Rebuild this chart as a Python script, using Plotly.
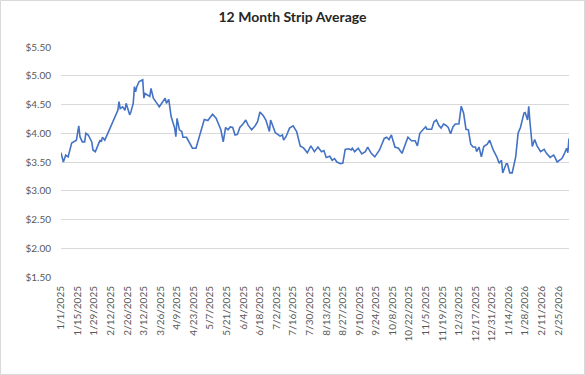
import plotly.graph_objects as go
import pandas as pd

dates = [
    "2025-01-01", "2025-01-03", "2025-01-05", "2025-01-07", "2025-01-10", "2025-01-12", "2025-01-14",
    "2025-01-16", "2025-01-17", "2025-01-19", "2025-01-21", "2025-01-22", "2025-01-24", "2025-01-27",
    "2025-01-28", "2025-01-30", "2025-02-03", "2025-02-04", "2025-02-05", "2025-02-07", "2025-02-11",
    "2025-02-15", "2025-02-18", "2025-02-19", "2025-02-20", "2025-02-22", "2025-02-24", "2025-02-25",
    "2025-02-27", "2025-02-28", "2025-03-01", "2025-03-03", "2025-03-04", "2025-03-05", "2025-03-06",
    "2025-03-08", "2025-03-11", "2025-03-12", "2025-03-13", "2025-03-17", "2025-03-18", "2025-03-20",
    "2025-03-22", "2025-03-25", "2025-03-30", "2025-03-31", "2025-04-02", "2025-04-04", "2025-04-07",
    "2025-04-08", "2025-04-09", "2025-04-11", "2025-04-13", "2025-04-14", "2025-04-17", "2025-04-20",
    "2025-04-22", "2025-04-25", "2025-04-28", "2025-05-02", "2025-05-05", "2025-05-09", "2025-05-12",
    "2025-05-16", "2025-05-18", "2025-05-20", "2025-05-22", "2025-05-24", "2025-05-26", "2025-05-28",
    "2025-05-30", "2025-06-01", "2025-06-04", "2025-06-06", "2025-06-08", "2025-06-11", "2025-06-14",
    "2025-06-16", "2025-06-18", "2025-06-21", "2025-06-23", "2025-06-25", "2025-06-26", "2025-06-27",
    "2025-06-29", "2025-07-01", "2025-07-03", "2025-07-05", "2025-07-07", "2025-07-08", "2025-07-10",
    "2025-07-13", "2025-07-16", "2025-07-19", "2025-07-22", "2025-07-25", "2025-07-28", "2025-07-31",
    "2025-08-03", "2025-08-06", "2025-08-09", "2025-08-11", "2025-08-13", "2025-08-16", "2025-08-18",
    "2025-08-20", "2025-08-22", "2025-08-25", "2025-08-27", "2025-08-29", "2025-09-01", "2025-09-03",
    "2025-09-04", "2025-09-06", "2025-09-09", "2025-09-12", "2025-09-15", "2025-09-17", "2025-09-20",
    "2025-09-23", "2025-09-27", "2025-10-01", "2025-10-03", "2025-10-05", "2025-10-07", "2025-10-10",
    "2025-10-13", "2025-10-16", "2025-10-19", "2025-10-21", "2025-10-24", "2025-10-27", "2025-10-29",
    "2025-10-31", "2025-11-03", "2025-11-05", "2025-11-06", "2025-11-10", "2025-11-12", "2025-11-14",
    "2025-11-16", "2025-11-18", "2025-11-20", "2025-11-22", "2025-11-24", "2025-11-26", "2025-11-28",
    "2025-11-30", "2025-12-03", "2025-12-05", "2025-12-07", "2025-12-09", "2025-12-11", "2025-12-13",
    "2025-12-15", "2025-12-17", "2025-12-18", "2025-12-20", "2025-12-22", "2025-12-24", "2025-12-27",
    "2025-12-29", "2026-01-01", "2026-01-04", "2026-01-06", "2026-01-08", "2026-01-09", "2026-01-12",
    "2026-01-13", "2026-01-15", "2026-01-17", "2026-01-20", "2026-01-22", "2026-01-24", "2026-01-27",
    "2026-01-28", "2026-01-30", "2026-01-31", "2026-02-01", "2026-02-03", "2026-02-05", "2026-02-07",
    "2026-02-10", "2026-02-13", "2026-02-15", "2026-02-18", "2026-02-21", "2026-02-22", "2026-02-24",
    "2026-02-28", "2026-03-02", "2026-03-04", "2026-03-05", "2026-03-06",
]

prices = [
    3.66, 3.50, 3.62, 3.59, 3.83, 3.85, 3.88,
    4.13, 3.94, 3.85, 3.85, 4.00, 3.97, 3.85,
    3.71, 3.68, 3.88, 3.85, 3.93, 3.88, 4.06,
    4.26, 4.40, 4.55, 4.43, 4.46, 4.40, 4.52,
    4.40, 4.32, 4.37, 4.52, 4.81, 4.72, 4.81,
    4.90, 4.93, 4.61, 4.69, 4.64, 4.78, 4.61,
    4.55, 4.46, 4.61, 4.52, 4.59, 4.29, 4.09,
    3.94, 4.26, 4.06, 4.03, 3.93, 3.93, 3.82,
    3.74, 3.74, 3.97, 4.24, 4.22, 4.33, 4.26,
    4.06, 3.85, 4.10, 4.06, 4.11, 4.10, 3.97,
    3.98, 4.10, 4.17, 4.23, 4.14, 4.06, 4.13,
    4.20, 4.37, 4.30, 4.23, 4.09, 4.03, 4.23,
    4.11, 4.01, 3.98, 3.95, 3.97, 3.88, 3.94,
    4.09, 4.13, 4.03, 3.78, 3.74, 3.66, 3.78,
    3.68, 3.76, 3.68, 3.70, 3.58, 3.60, 3.53,
    3.56, 3.50, 3.47, 3.48, 3.72, 3.73, 3.71,
    3.74, 3.68, 3.74, 3.64, 3.68, 3.76, 3.65,
    3.59, 3.71, 3.91, 3.93, 3.89, 3.97, 3.76,
    3.74, 3.65, 3.82, 3.93, 3.87, 3.87, 3.78,
    4.00, 4.07, 4.11, 4.07, 4.07, 4.20, 4.23,
    4.14, 4.09, 4.16, 4.14, 4.10, 3.99, 4.11,
    4.16, 4.16, 4.47, 4.35, 4.07, 4.06, 3.81,
    3.76, 3.76, 3.68, 3.76, 3.59, 3.77, 3.81,
    3.88, 3.71, 3.59, 3.48, 3.53, 3.31, 3.47,
    3.47, 3.31, 3.31, 3.59, 4.00, 4.10, 4.35,
    4.36, 4.23, 4.47, 4.20, 3.77, 3.89, 3.78,
    3.68, 3.72, 3.65, 3.58, 3.62, 3.59, 3.50,
    3.56, 3.64, 3.74, 3.66, 3.91,
]

tick_dates = pd.date_range("2025-01-01", "2026-02-25", freq="14D")
tick_labels = [f"{d.month}/{d.day}/{d.year}" for d in tick_dates]

y_ticks = [1.5, 2.0, 2.5, 3.0, 3.5, 4.0, 4.5, 5.0, 5.5]

W, H = 585, 375
L, R, T, B = 61, 16, 47, 98
pw, ph = W - L - R, H - T - B

fig = go.Figure()
fig.add_trace(go.Scatter(
    x=dates, y=prices, mode="lines",
    line=dict(color="#4472C4", width=1.6),
    showlegend=False,
))

fig.update_layout(
    template="none",
    width=W, height=H,
    margin=dict(l=L, r=R, t=T, b=B),
    paper_bgcolor="white", plot_bgcolor="white",
    font=dict(family="Lato, Carlito, sans-serif", color="#595959"),
    title=dict(text="<b>12 Month Strip Average</b>", x=0.5, xanchor="center",
               y=1 - 17 / H, yanchor="middle",
               font=dict(size=14, color="#262626", family="Lato, sans-serif")),
    xaxis=dict(
        type="date",
        range=["2025-01-01", "2026-03-06"],
        tickmode="array",
        tickvals=list(tick_dates),
        ticktext=tick_labels,
        tickangle=-90,
        tickfont=dict(size=10, color="#595959"),
        showgrid=False,
        showline=False,
        zeroline=False,
        ticks="outside", ticklen=4, tickcolor="rgba(0,0,0,0)",
    ),
    yaxis=dict(
        range=[1.5, 5.5],
        tickmode="array",
        tickvals=y_ticks,
        ticktext=[f"${v:.2f}" for v in y_ticks],
        tickfont=dict(size=10, color="#595959"),
        showgrid=True, gridcolor="#d9d9d9", gridwidth=1,
        zeroline=False, showline=False,
        ticks="outside", ticklen=7, tickcolor="rgba(0,0,0,0)",
    ),
    shapes=[dict(
        type="rect", xref="paper", yref="paper",
        x0=-(L - 0.5) / pw, x1=1 + (R - 0.5) / pw,
        y0=-(B - 0.5) / ph, y1=1 + (T - 0.5) / ph,
        line=dict(color="#d9d9d9", width=1), fillcolor="rgba(0,0,0,0)",
        layer="above",
    )],
)

fig.write_html(
    "out.html",
    config={"displayModeBar": False},
    post_script="document.body.style.margin='0';document.body.style.overflow='hidden';",
)
